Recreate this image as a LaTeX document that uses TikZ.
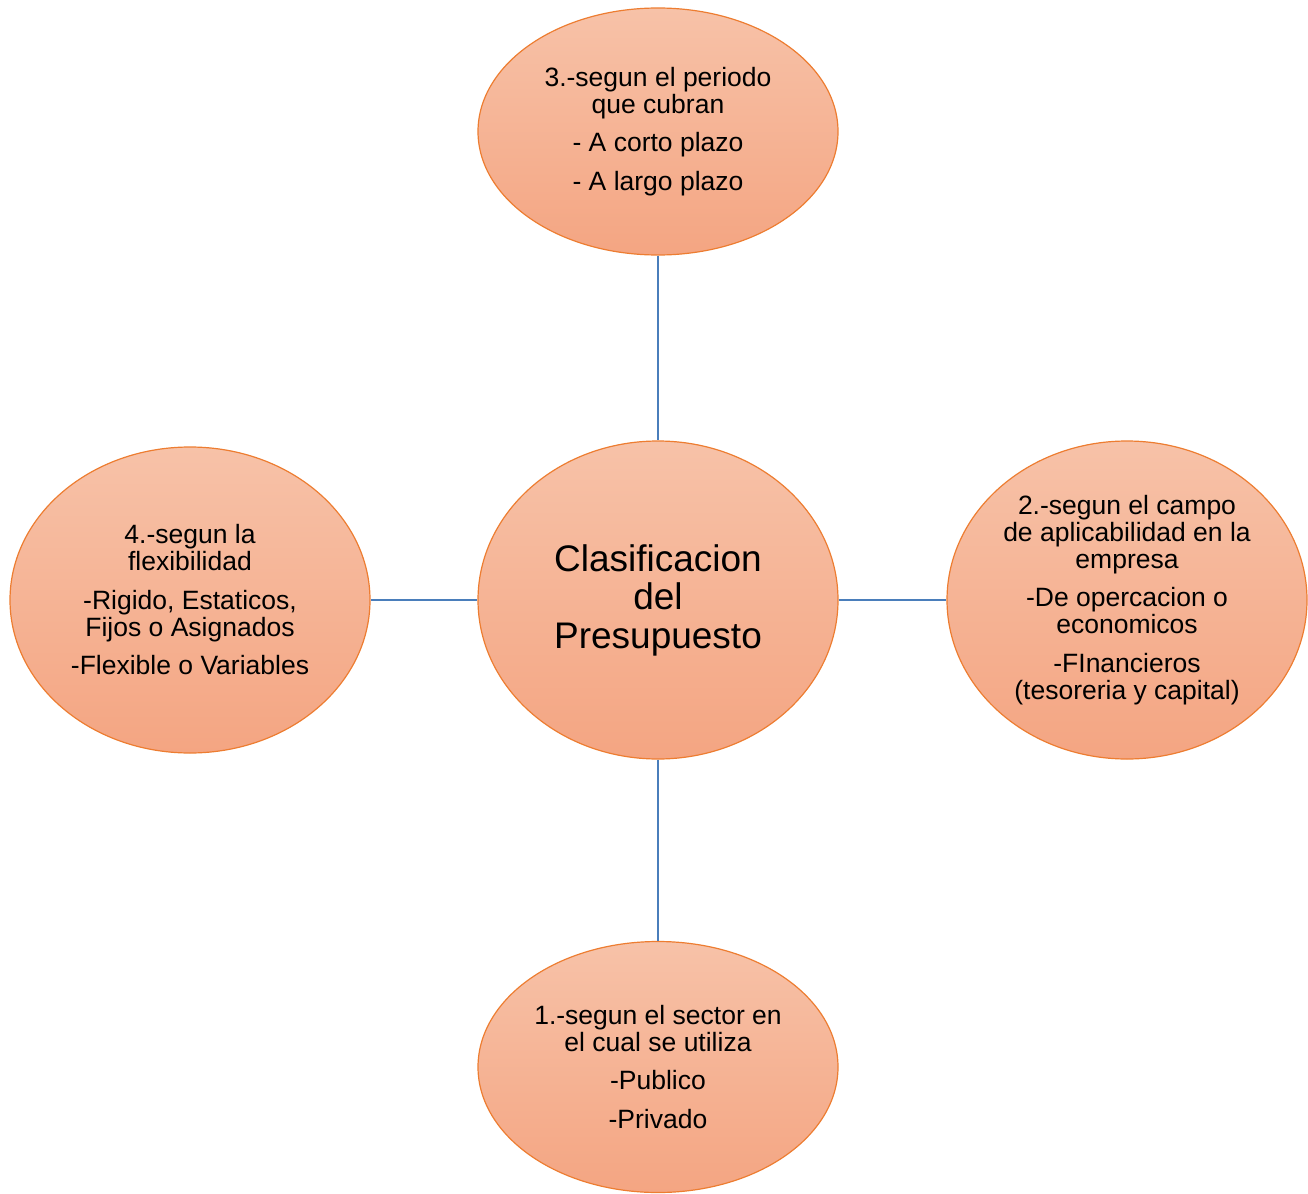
\documentclass[tikz,border=0pt]{standalone}
\usepackage{fontspec}
\setmainfont{Liberation Sans}
\usetikzlibrary{shapes.geometric}
\definecolor{peachtop}{RGB}{247,194,168}
\definecolor{peachbot}{RGB}{244,165,130}
\definecolor{ovalline}{RGB}{237,125,49}
\definecolor{linkblue}{RGB}{74,126,187}
\tikzset{
  oval/.style={ellipse, draw=ovalline, line width=1.2pt, top color=peachtop, bottom color=peachbot,
    minimum width=360pt, inner sep=0pt, align=center,
    font=\fontsize{26.5pt}{27pt}\selectfont},
  bigtext/.style={font=\fontsize{37pt}{38.5pt}\selectfont},
  link/.style={draw=linkblue, line width=2pt}
}
\begin{document}
\begin{tikzpicture}[x=1pt,y=-1pt]
\useasboundingbox (0,0) rectangle (1308,1193);
\node[oval, minimum height=318pt, bigtext] (c) at (658,600) {Clasificacion\\del\\Presupuesto};
\node[oval, minimum height=247pt] (t) at (658,131.5) {3.-segun el periodo\\que cubran\\[11.5pt]- A corto plazo\\[11.5pt]- A largo plazo};
\node[oval, minimum height=306pt] (l) at (190,600) {4.-segun la\\flexibilidad\\[11.5pt]-Rigido, Estaticos,\\Fijos o Asignados\\[11.5pt]-Flexible o Variables};
\node[oval, minimum height=318pt] (r) at (1127,600) {2.-segun el campo\\de aplicabilidad en la\\empresa\\[11.5pt]-De opercacion o\\economicos\\[11.5pt]-FInancieros\\(tesoreria y capital)};
\node[oval, minimum height=251pt] (b) at (658,1067) {1.-segun el sector en\\el cual se utiliza\\[11.5pt]-Publico\\[11.5pt]-Privado};
\draw[link] (t.south) -- (c.north);
\draw[link] (l.east) -- (c.west);
\draw[link] (c.east) -- (r.west);
\draw[link] (c.south) -- (b.north);
\end{tikzpicture}
\end{document}
